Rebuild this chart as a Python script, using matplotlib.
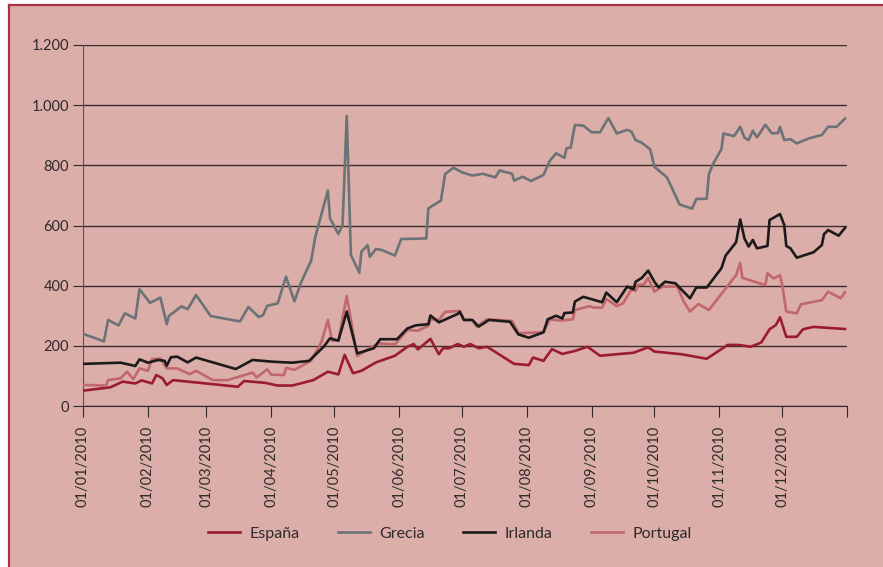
import numpy as np
import pandas as pd
import matplotlib
matplotlib.use("Agg")
import matplotlib.pyplot as plt
from matplotlib.patches import Rectangle
from matplotlib.lines import Line2D

# dia del año (0 = 01/01/2010) y diferencial en puntos basicos
espana_dia = [0, 13, 19, 25, 28, 33, 35, 38, 40, 43, 74, 77, 87, 93, 100, 110, 117, 122, 125, 129,
              133, 140, 149, 155, 158, 160, 166, 170, 172, 175, 179, 182, 185, 189, 193, 206, 213,
              215, 220, 224, 229, 235, 241, 247, 263, 270, 273, 286, 298, 308, 313, 319, 324, 328,
              331, 333, 336, 341, 344, 349, 364]
espana = [51, 62, 81, 75, 85, 75, 103, 92, 70, 86, 64, 83, 77, 68, 68, 86, 114, 105, 170, 109,
          117, 145, 167, 197, 206, 188, 223, 172, 192, 192, 206, 197, 206, 192, 197, 140, 136,
          161, 150, 189, 173, 183, 197, 167, 177, 195, 181, 172, 157, 203, 203, 197, 211, 255,
          269, 295, 230, 230, 255, 263, 256]

grecia_dia = [0, 10, 12, 17, 20, 25, 27, 32, 37, 40, 41, 47, 50, 54, 61, 75, 79, 84, 86, 88,
              93, 97, 101, 104, 109, 111, 117, 118, 122, 124, 126, 128, 132, 133, 136, 137, 140,
              143, 149, 152, 164, 165, 171, 173, 177, 181, 186, 191, 197, 199, 205, 206, 210,
              214, 220, 223, 226, 230, 231, 233, 235, 239, 243, 247, 251, 255, 260, 262, 264,
              267, 271, 273, 279, 285, 291, 293, 298, 299, 301, 305, 306, 311, 314, 316, 318,
              320, 322, 326, 329, 332, 333, 335, 338, 341, 347, 353, 356, 360, 364]
grecia = [240, 215, 286, 268, 308, 291, 388, 343, 360, 272, 299, 331, 322, 369, 299, 281, 329, 296,
          302, 333, 341, 430, 348, 408, 483, 563, 716, 624, 572, 602, 964, 502, 443, 513, 535,
          496, 522, 518, 500, 555, 557, 657, 683, 771, 792, 777, 766, 772, 760, 783, 772, 749,
          762, 748, 768, 815, 840, 825, 857, 859, 934, 932, 910, 910, 957, 906, 918, 912, 884,
          875, 853, 795, 760, 670, 656, 688, 689, 771, 804, 854, 906, 897, 928, 892, 884, 915,
          893, 935, 907, 907, 928, 884, 887, 873, 890, 901, 928, 928, 955]

irlanda_dia = [0, 18, 25, 27, 31, 36, 39, 40, 42, 45, 50, 54, 73, 81, 91, 100, 108, 115, 118, 122,
               126, 131, 139, 142, 150, 155, 159, 165, 166, 170, 179, 180, 182, 186, 189, 194,
               204, 208, 213, 220, 222, 226, 229, 230, 234, 235, 239, 248, 250, 255, 260, 263,
               264, 267, 270, 273, 275, 278, 283, 290, 293, 298, 305, 307, 312, 314, 316, 318,
               320, 322, 327, 328, 333, 335, 336, 338, 341, 349, 353, 354, 356, 361, 364]
irlanda = [140, 144, 133, 155, 144, 153, 150, 134, 162, 164, 145, 161, 123, 153, 147, 144, 150,
           197, 225, 217, 314, 175, 192, 222, 222, 258, 268, 272, 301, 278, 306, 313, 286, 286,
           264, 286, 280, 238, 227, 245, 288, 300, 291, 309, 311, 347, 363, 345, 377, 345, 397,
           388, 413, 426, 450, 413, 394, 413, 408, 358, 394, 394, 458, 500, 544, 620, 557, 530,
           552, 524, 532, 618, 638, 602, 532, 524, 493, 511, 535, 571, 585, 566, 592]

portugal_dia = [0, 11, 12, 18, 21, 24, 27, 31, 33, 37, 40, 45, 51, 54, 62, 69, 81, 83, 88, 90,
                96, 97, 101, 109, 114, 117, 119, 122, 126, 131, 137, 141, 149, 155, 160, 165,
                166, 170, 173, 180, 182, 186, 188, 193, 205, 208, 220, 223, 228, 234, 235, 242,
                244, 248, 250, 255, 258, 262, 264, 265, 268, 270, 273, 277, 284, 285, 287, 290,
                294, 299, 312, 314, 315, 326, 327, 330, 333, 334, 336, 341, 343, 353, 356, 362,
                364]
portugal = [70, 68, 86, 92, 114, 89, 125, 117, 156, 158, 125, 125, 106, 117, 86, 86, 111, 95, 122,
            104, 103, 127, 120, 151, 214, 286, 217, 219, 366, 166, 192, 208, 205, 253, 250, 267,
            288, 286, 313, 316, 286, 286, 264, 288, 283, 242, 245, 288, 284, 288, 319, 332, 327,
            327, 356, 332, 341, 388, 382, 402, 404, 426, 380, 397, 397, 380, 347, 314, 339, 319,
            435, 476, 426, 402, 441, 424, 435, 404, 314, 308, 338, 352, 380, 358, 378]

inicio = pd.Timestamp("2010-01-01")


def fechas(dias):
    return inicio + pd.to_timedelta(dias, unit="D")


fondo = "#dcaeaa"
borde = "#a8324a"
texto = "#2e2a2a"

plt.rcParams["font.family"] = ["Lato", "DejaVu Sans"]

fig = plt.figure(figsize=(8.83, 5.67), dpi=100, facecolor="white")

# marco rosa con borde rojo arriba y a la izquierda
fig.patches.append(Rectangle((9 / 883, 0), 1 - 9 / 883, 1 - 5 / 567, transform=fig.transFigure,
                             facecolor=fondo, edgecolor="none", zorder=-10))
fig.lines.append(Line2D([9 / 883, 1], [1 - 5 / 567, 1 - 5 / 567], transform=fig.transFigure,
                        color=borde, lw=1.6))
fig.lines.append(Line2D([9 / 883, 9 / 883], [0, 1 - 5 / 567], transform=fig.transFigure,
                        color=borde, lw=1.6))

ax = fig.add_axes([83 / 883, 1 - 406 / 567, (847 - 83) / 883, (406 - 45) / 567])
ax.set_facecolor(fondo)

ax.plot(fechas(espana_dia), espana, color="#9b1b32", lw=1.9, label="España", zorder=3)
ax.plot(fechas(grecia_dia), grecia, color="#6b7376", lw=1.9, label="Grecia", zorder=3)
ax.plot(fechas(irlanda_dia), irlanda, color="#1c1a1a", lw=1.9, label="Irlanda", zorder=4)
ax.plot(fechas(portugal_dia), portugal, color="#c0686b", lw=1.9, label="Portugal", zorder=3)

ax.set_ylim(0, 1200)
ax.set_yticks(range(0, 1201, 200))
ax.set_yticklabels([f"{v:,}".replace(",", ".") for v in range(0, 1201, 200)])
ax.set_xlim(inicio, pd.Timestamp("2011-01-01"))
meses = pd.date_range("2010-01-01", "2011-01-01", freq="MS")
ax.set_xticks(meses)
ax.set_xticklabels([m.strftime("%d/%m/%Y") for m in meses[:-1]] + [""], rotation=90)

ax.grid(axis="y", color="#3a2e2e", lw=1.0)
ax.set_axisbelow(True)
for lado in ["top", "right"]:
    ax.spines[lado].set_visible(False)
ax.spines["left"].set_color("#5a5050")
ax.spines["bottom"].set_color("#2e2a2a")
ax.tick_params(axis="y", length=7, color="#2e2a2a", labelsize=10.5, labelcolor=texto, pad=3)
ax.tick_params(axis="x", length=8, color="#2e2a2a", labelsize=10.5, labelcolor=texto, pad=6)

ax.legend(loc="center", bbox_to_anchor=(450 / 883, 1 - 534 / 567), bbox_transform=fig.transFigure,
          ncol=4, frameon=False, fontsize=11.5, handlelength=2.0, handletextpad=0.6,
          columnspacing=2.4, labelcolor=texto)

fig.savefig("out.png", dpi=100, facecolor="white")
